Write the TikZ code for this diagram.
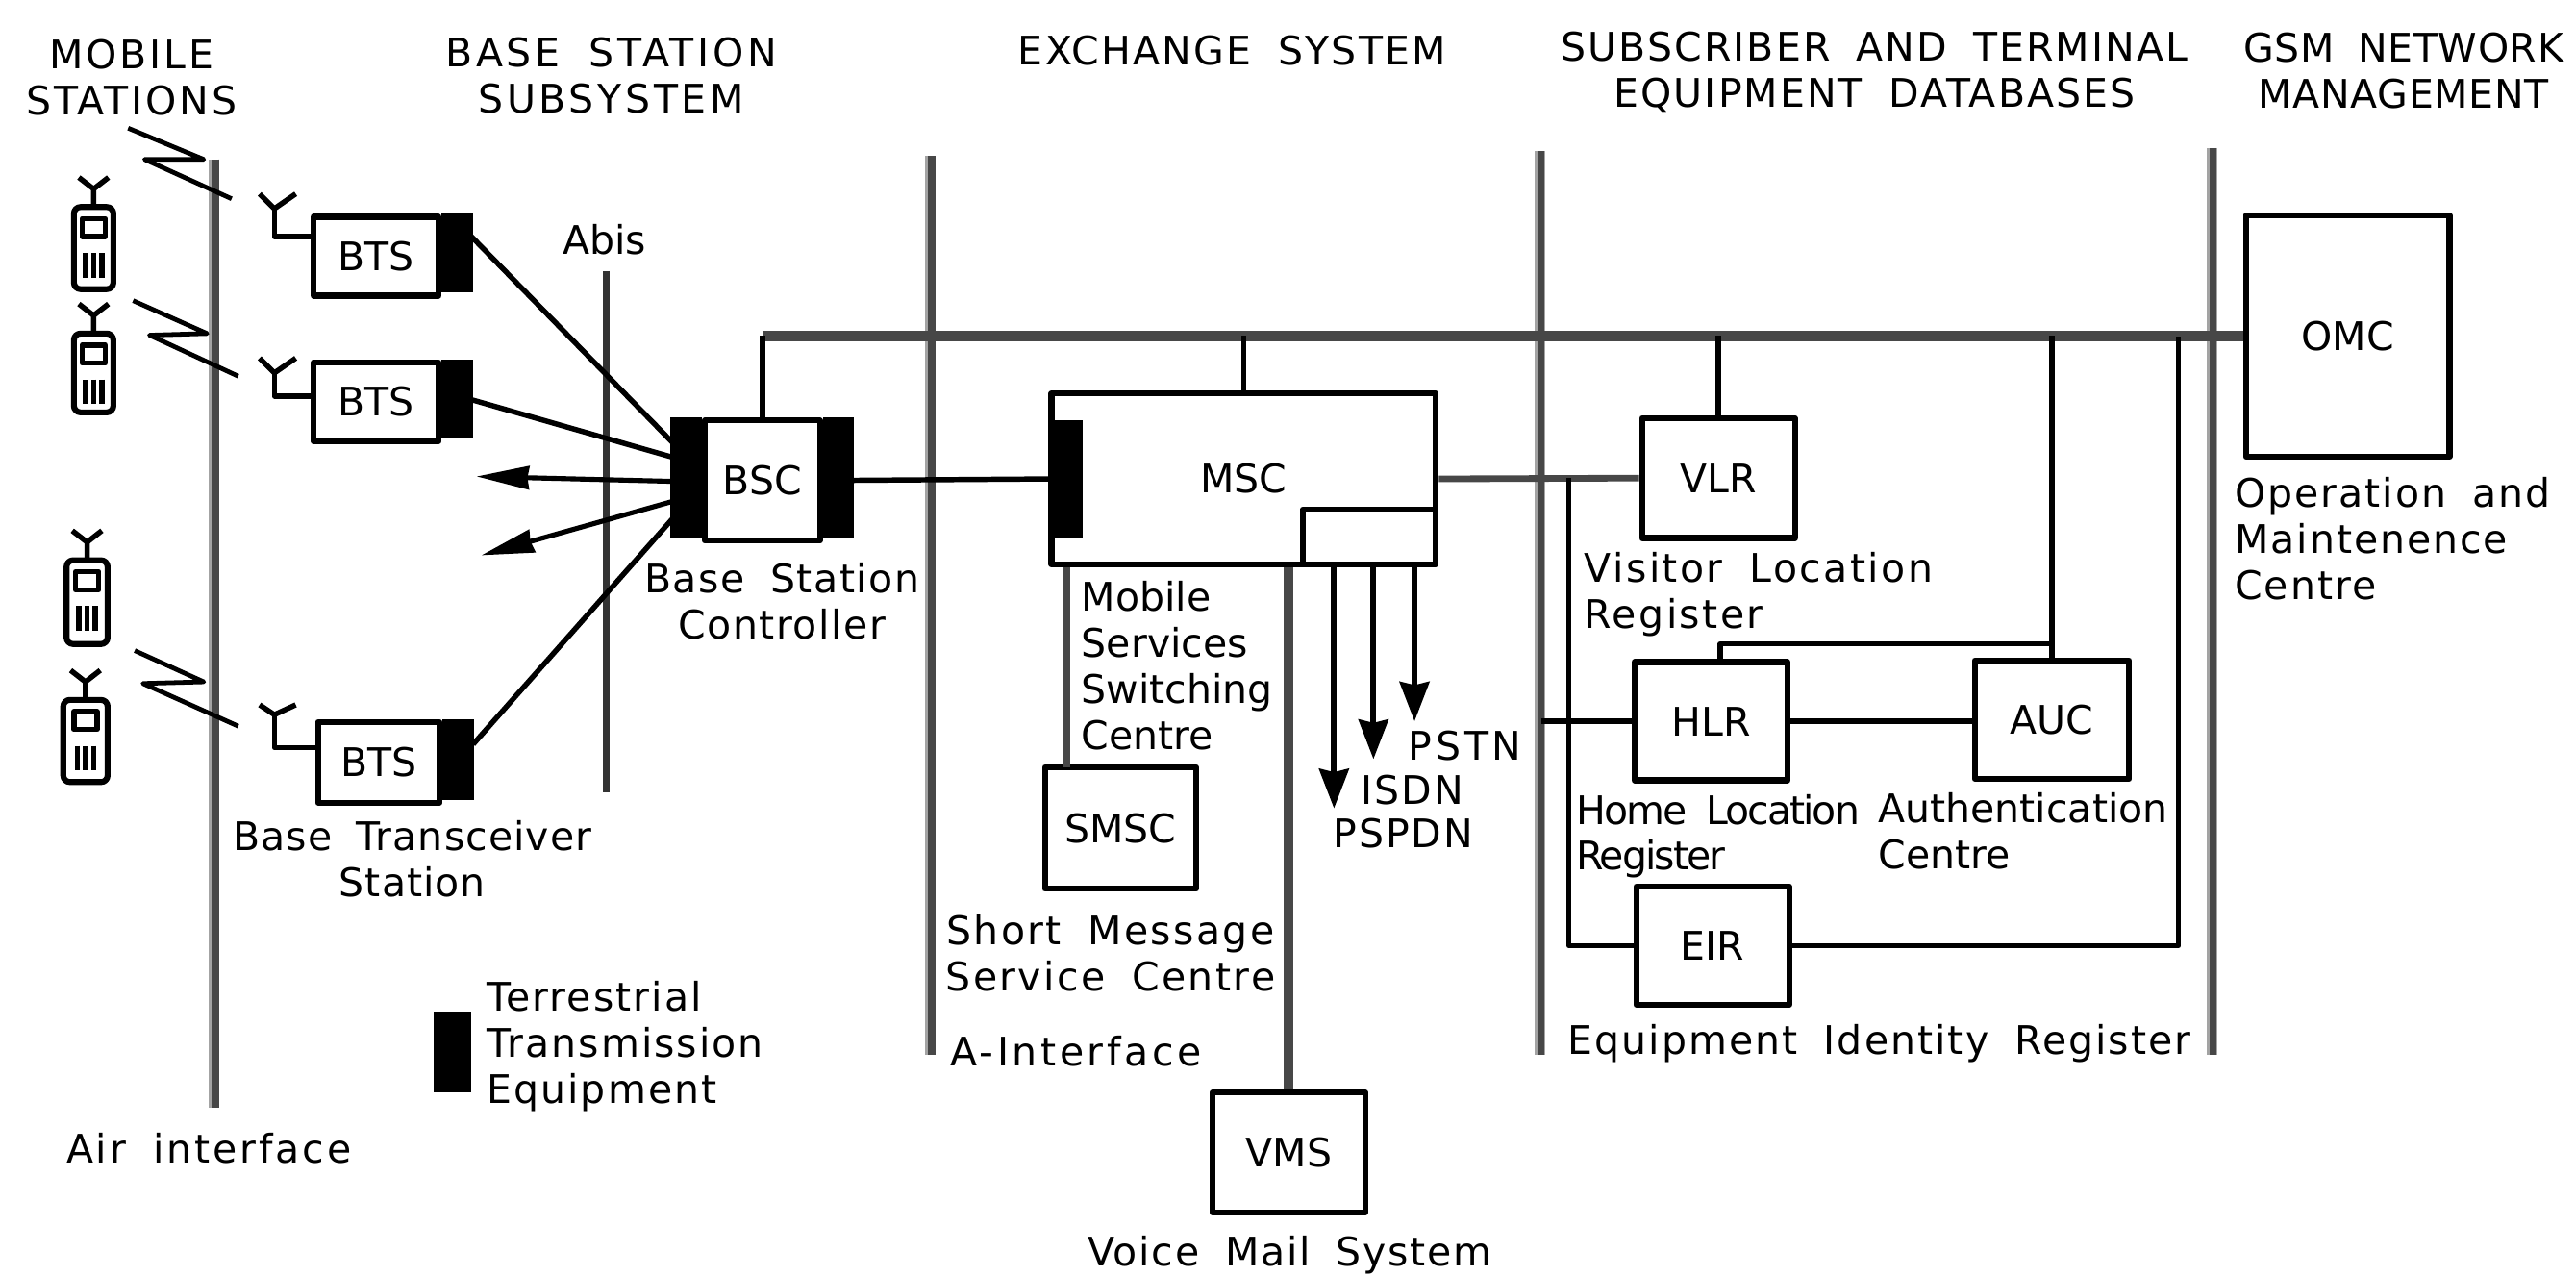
\documentclass[tikz,border=0pt]{standalone}
\usepackage{fontspec}
\setmainfont[WordSpace=1.8]{DejaVu Sans}
\usetikzlibrary{arrows.meta}
\definecolor{wire}{gray}{0.28}
\newcommand{\lblfont}{\fontsize{12}{14}\selectfont}
\tikzset{
	box/.style={draw=black, fill=white, line width=1.8pt, inner sep=0pt},
	txt/.style={inner sep=0pt, align=left},
	ctxt/.style={inner sep=0pt, align=center},
	sp/.style={font=\lblfont\addfontfeature{LetterSpace=#1}},
	iface/.style={draw=wire, line width=2.2pt, preaction={draw=wire!50, line width=3.2pt, transform canvas={xshift=-0.3pt}}},
	link/.style={draw=black, line width=1.6pt},
	thick link/.style={draw=wire, line width=2.4pt},
	radio/.style={draw=black, line width=1.4pt},
	arrowS/.style={-{Stealth[length=12pt,width=9pt,inset=1pt]}, line width=1.7pt},
	arrowL/.style={-{Stealth[length=16pt,width=7pt,inset=0.5pt]}, line width=1.5pt},
}
\begin{document}
\begin{tikzpicture}[x=0.5pt, y=-0.5pt, font=\lblfont, line join=round]
	\useasboundingbox (0,0) rectangle (1568,777);
	% interface lines
	\draw[iface] (131,97)--(131,674);
	\draw[iface] (567,95)--(567,642);
	\draw[iface] (938,92)--(938,642);
	\draw[iface] (1347,90)--(1347,642);
	\draw[link, draw=black!80, line width=2pt] (369,165)--(369,482);
	% mobile stations
	\foreach \px/\py/\ph/\pw in {57/126/50/24, 57/203/48/24, 53/341/51/25, 52/426/50/27}{
		\begin{scope}[shift={(\px,\py)}]
			\draw[line width=1.8pt, rounded corners=2pt] (-\pw/2,0) rectangle (\pw/2,\ph);
			\draw[line width=1.6pt] (-7,7) rectangle (7,18);
			\foreach \kx in {-5,0,5}
				\draw[line width=1.6pt] (\kx,28)--(\kx,43);
			\draw[line width=1.6pt] (0,0)--(0,-11)--(-9,-18);
			\draw[line width=1.6pt] (0,-11)--(9,-18);
		\end{scope}
	}
	% radio links
	\draw[radio] (78,78)--(124,97)--(88,97)--(141,121);
	\draw[radio] (81,183)--(126,203)--(91,204)--(145,229);
	\draw[radio] (82,396)--(124,415)--(87,416)--(145,442);
	% units
	\node[box, minimum width=38pt, minimum height=24pt] (bts1) at (229,156) {BTS};
	\node[box, minimum width=38pt, minimum height=24pt] (bts2) at (229,244.5) {BTS};
	\node[box, minimum width=37pt, minimum height=24.5pt] (bts3) at (230.5,464) {BTS};
	\node[box, minimum width=35pt, minimum height=36.5pt] (bsc) at (464,292.5) {BSC};
	\node[box, minimum width=117pt, minimum height=52pt] (msc) at (757,291.5) {MSC};
	\node[box, minimum width=46pt, minimum height=37pt] (smsc) at (682,504) {SMSC};
	\node[box, minimum width=46.5pt, minimum height=36.5pt] (vms) at (784.5,701.5) {VMS};
	\node[box, minimum width=46.5pt, minimum height=36.5pt] (vlr) at (1046,291) {VLR};
	\node[box, minimum width=46.5pt, minimum height=36pt] (hlr) at (1041.5,439) {HLR};
	\node[box, minimum width=47pt, minimum height=36pt] (auc) at (1249,438) {AUC};
	\node[box, minimum width=46.5pt, minimum height=36pt] (eir) at (1042.5,575.5) {EIR};
	\node[box, minimum width=62pt, minimum height=73.5pt] (omc) at (1429,204.5) {OMC};
	% free ends
	\coordinate (bts1end) at (286,143);
	\coordinate (bts2end) at (286,243);
	\coordinate (bts3end) at (288,453);
	\coordinate (bscA) at (410,270);
	\coordinate (bscB) at (410,278.5);
	\coordinate (bscC) at (410,293);
	\coordinate (bscD) at (410,305);
	\coordinate (bscE) at (410,315);
	\coordinate (outA) at (290,290);
	\coordinate (outB) at (293,338);
	\coordinate (hlrleft) at (938,439);
	\coordinate (smsctop) at (649,467);
	\coordinate (mscA) at (812,344);
	\coordinate (mscB) at (836,344);
	\coordinate (mscC) at (861,344);
	\coordinate (tipA) at (812,492);
	\coordinate (tipB) at (836,462);
	\coordinate (tipC) at (861,439);
	\coordinate (branch) at (955,291);
	\coordinate (hlrtop) at (1047,403);
	\coordinate (auctop) at (1249,392);
	\coordinate (drop) at (1326,205);
	% antennas
	\foreach \bt/\ay/\jy/\ty in {bts1/144/127/118, bts2/241/227/218, bts3/455/435/429}{
		\coordinate (\bt ant) at (167,\jy);
		\draw[link] (\bt.west |- 167,\ay) -| (\bt ant);
		\draw[link] (\bt ant)--++(-9,-\jy+\ty);
		\draw[link] (\bt ant)--++(13,-\jy+\ty);
	}
	% connectors
	\draw[link] (bts1end)--(bscA);
	\draw[link] (bts2end)--(bscB);
	\draw[link] (bts3end)--(bscE);
	\draw[link, arrowL] (bscC)--(outA);
	\draw[link, arrowL] (bscD)--(outB);
	\draw[thick link, line width=3pt] (bsc.north |- omc.west)--(omc.west);
	\draw[link] (bsc.north)--(bsc.north |- omc.west);
	\draw[link] (msc.north)--(msc.north |- omc.west);
	\draw[link, line width=1.9pt] (vlr.north)--(vlr.north |- omc.west);
	\draw[link] (auc.north)--(auc.north |- omc.west);
	\draw[link] (bsc.east)--(msc.west);
	\draw[thick link, line width=2pt] (msc.east)--(vlr.west);
	\draw[link] (branch) |- (eir.west);
	\draw[link] (hlrleft)--(hlr.west);
	\draw[link] (hlr.east)--(auc.west |- hlr.east);
	\draw[link] (hlrtop) |- (auctop);
	\draw[link] (eir.east) -| (drop);
	\draw[thick link] (smsctop)--(smsctop |- msc.south);
	\draw[thick link, line width=3pt] (vms.north)--(vms.north |- msc.south);
	\draw[link, arrowS] (mscA)--(tipA);
	\draw[link, arrowS] (mscB)--(tipB);
	\draw[link, arrowS] (mscC)--(tipC);
	% transmission equipment
	\fill[black] (bts1.north east) rectangle ++(19,48);
	\fill[black] (bts2.north east) rectangle ++(19,48);
	\fill[black] (bts3.north east) rectangle ++(19,49);
	\fill[black] (bsc.north west) rectangle ++(-19,73);
	\fill[black] (bsc.north east) rectangle ++(19,73);
	\fill[black] (640,256) rectangle (659,328);
	\draw[link] (793,344)--(793,310)--(874,310);
	\fill[black] (264,616) rectangle (287,665);
	% labels
	\node[ctxt, sp=7] (mobiletitle) at (80,47) {MOBILE\\STATIONS};
	\node[ctxt, sp=9] (bsstitle) at (372,46) {BASE STATION\\SUBSYSTEM};
	\node[ctxt, sp=5.5] (extitle) at (750,31) {EXCHANGE SYSTEM};
	\node[ctxt, sp=5] (subtitle) at (1141,44) {SUBSCRIBER AND TERMINAL\\EQUIPMENT DATABASES};
	\node[ctxt, sp=1.5] (gsmtitle) at (1463,43) {GSM NETWORK\\MANAGEMENT};
	\node[ctxt] (abis) at (368,146) {Abis};
	\node[ctxt, sp=3.8] (bsclabel) at (476,366) {Base Station\\Controller};
	\node[ctxt, sp=2.6] (btslabel) at (251,523) {Base Transceiver\\Station};
	\node[txt, anchor=west, sp=5] (terrlabel) at (296,637) {Terrestrial\\Transmission\\Equipment};
	\node[txt, anchor=west, sp=7] (airlabel) at (40,699) {Air interface};
	\node[txt, anchor=west] (msclabel) at (658,405) {Mobile\\Services\\Switching\\Centre};
	\node[ctxt, sp=5.8] (smsclabel) at (676,580) {Short Message\\Service Centre};
	\node[txt, anchor=west, sp=8.7] (alabel) at (578,640) {A-Interface};
	\node[ctxt, sp=4.4] (vmslabel) at (785,764) {Voice Mail System};
	\node[txt, anchor=west, sp=9] (pstn) at (857,454) {PSTN};
	\node[txt, anchor=west, sp=5] (isdn) at (828,481) {ISDN};
	\node[txt, anchor=west, sp=5] (pspdn) at (811,507) {PSPDN};
	\node[txt, anchor=west, sp=6] (vlrlabel) at (964,362) {Visitor Location\\Register};
	\node[txt, anchor=west, sp=-4.8] (hlrlabel) at (959,509) {Home Location\\Register};
	\node[txt, anchor=west] (auclabel) at (1143,506) {Authentication\\Centre};
	\node[ctxt, sp=5] (eirlabel) at (1144,635) {Equipment Identity Register};
	\node[txt, anchor=west, sp=4.8] (omclabel) at (1360,328) {Operation and\\Maintenence\\Centre};
\end{tikzpicture}
\end{document}
